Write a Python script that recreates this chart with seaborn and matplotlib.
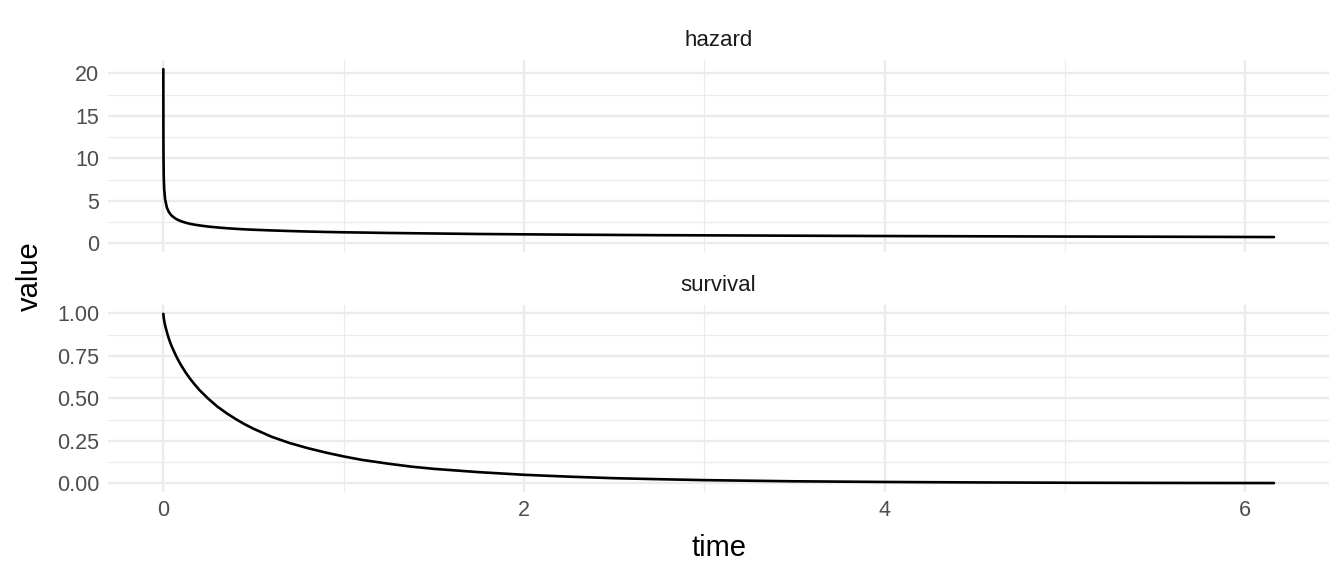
import numpy as np
import pandas as pd
import matplotlib
matplotlib.use("Agg")
import matplotlib.pyplot as plt
import seaborn as sns

# values
time = [0.0001, 0.0005, 0.001, 0.002, 0.003, 0.005, 0.01, 0.02, 0.03, 0.04,
        0.05, 0.07, 0.085, 0.1, 0.125, 0.15, 0.175, 0.2, 0.25, 0.3,
        0.35, 0.4, 0.45, 0.5, 0.6, 0.7, 0.8, 0.9, 1.0, 1.1,
        1.25, 1.375, 1.5, 1.75, 2.0, 2.25, 2.5, 2.75, 3.0, 3.5,
        4.0, 4.5, 5.0, 5.5, 6.0, 6.16]
hazard = [20.5, 12.6, 10.3, 8.34, 7.39, 6.34, 5.15, 4.18, 3.70, 3.40,
          3.18, 2.87, 2.71, 2.58, 2.41, 2.28, 2.18, 2.10, 1.96, 1.86,
          1.77, 1.70, 1.64, 1.59, 1.51, 1.44, 1.38, 1.33, 1.29, 1.26,
          1.21, 1.18, 1.15, 1.09, 1.05, 1.01, 0.98, 0.95, 0.93, 0.89,
          0.85, 0.82, 0.79, 0.77, 0.74, 0.73]
survival = [0.997, 0.991, 0.985, 0.976, 0.969, 0.956, 0.929, 0.888, 0.853, 0.823,
            0.797, 0.751, 0.720, 0.692, 0.650, 0.613, 0.580, 0.549, 0.497, 0.451,
            0.413, 0.379, 0.348, 0.321, 0.274, 0.237, 0.207, 0.181, 0.158, 0.138,
            0.115, 0.098, 0.085, 0.0655, 0.050, 0.039, 0.030, 0.024, 0.0186, 0.0117,
            0.0078, 0.0051, 0.0033, 0.0022, 0.0015, 0.0014]

panels = ["hazard", "survival"]
df = pd.concat([
    pd.DataFrame({"time": time, "value": hazard, "type": "hazard"}),
    pd.DataFrame({"time": time, "value": survival, "type": "survival"}),
])

sns.set_theme(style="white")
plt.rcParams["font.family"] = ["Liberation Sans", "DejaVu Sans"]

fig = plt.figure(figsize=(13.44, 5.76), dpi=100)
ax_h = fig.add_axes([0.0802, 0.5625, 0.9090, 0.3342])
ax_s = fig.add_axes([0.0802, 0.1462, 0.9090, 0.3246])

grid_col = "#EBEBEB"
xmin, xmax = -0.308, 6.468

settings = {
    "hazard": dict(ax=ax_h, ylim=(-1.03, 21.63), major=[0, 5, 10, 15, 20],
                   minor=[2.5, 7.5, 12.5, 17.5], labels=["0", "5", "10", "15", "20"]),
    "survival": dict(ax=ax_s, ylim=(-0.05, 1.05), major=[0, 0.25, 0.5, 0.75, 1.0],
                     minor=[0.125, 0.375, 0.625, 0.875],
                     labels=["0.00", "0.25", "0.50", "0.75", "1.00"]),
}

for name in panels:
    s = settings[name]
    ax = s["ax"]
    sns.lineplot(data=df[df["type"] == name], x="time", y="value", ax=ax,
                 color="black", linewidth=1.9, zorder=3)
    ax.set_xlim(xmin, xmax)
    ax.set_ylim(*s["ylim"])
    ax.set_xticks([0, 2, 4, 6])
    ax.set_xticks([1, 3, 5], minor=True)
    ax.set_yticks(s["major"])
    ax.set_yticklabels(s["labels"])
    ax.set_yticks(s["minor"], minor=True)
    ax.grid(which="major", color=grid_col, linewidth=1.7)
    ax.grid(which="minor", color=grid_col, linewidth=0.9)
    ax.set_axisbelow(True)
    for sp in ax.spines.values():
        sp.set_visible(False)
    ax.tick_params(which="both", length=0, labelsize=15.5, labelcolor="#4D4D4D", pad=6)
    ax.set_xlabel("")
    ax.set_ylabel("")
    ax.set_title(name, fontsize=16, color="#1A1A1A", pad=10)

ax_h.set_xticklabels([])
ax_s.set_xticklabels(["0", "2", "4", "6"])

fig.text(0.0802 + 0.9090 / 2, 0.049, "time", ha="center", va="center", fontsize=21, color="black")
fig.text(0.022, 1 - 276 / 576, "value", ha="center", va="center", rotation=90, fontsize=21, color="black")

fig.savefig("out.png", dpi=100, facecolor="white")
